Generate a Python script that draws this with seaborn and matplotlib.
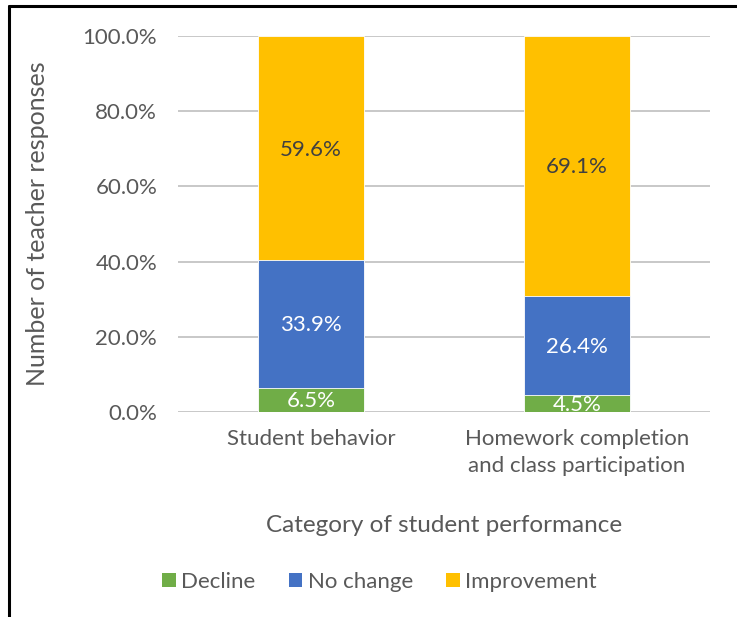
import pandas as pd
import numpy as np
import seaborn as sns
import matplotlib.pyplot as plt
from matplotlib.lines import Line2D
from matplotlib.patches import Patch

categories = ['Student behavior', 'Homework completion\nand class participation']
decline = [6.5, 4.5]
no_change = [33.9, 26.4]
improvement = [59.6, 69.1]
series = ['Decline', 'No change', 'Improvement']
colors = ['#70AD47', '#4472C4', '#FFC000']
label_colors = ['white', 'white', '#404040']

df = pd.DataFrame({'Category': categories, 'Decline': decline,
                   'No change': no_change, 'Improvement': improvement})
# cumulative tops for stacking
df['top_decline'] = df['Decline']
df['top_nochange'] = df['top_decline'] + df['No change']
df['top_improvement'] = df['top_nochange'] + df['Improvement']

sns.set_theme(style='white')
plt.rcParams['font.family'] = ['Lato', 'DejaVu Sans']
text_col = '#595959'

fig = plt.figure(figsize=(7.37, 6.17), dpi=100)
ax = fig.add_axes([0.2415, 0.3323, 0.722, 0.6094])

tops = ['top_improvement', 'top_nochange', 'top_decline']
for col, c in zip(tops, colors[::-1]):
    sns.barplot(data=df, x='Category', y=col, color=c, width=0.4,
                saturation=1, edgecolor='white', linewidth=0.6, ax=ax, zorder=3)

# segment labels
for i in range(len(categories)):
    bottom = 0
    for s, lc in zip(series, label_colors):
        v = df.loc[i, s]
        ax.text(i, bottom + v / 2 - 0.4, f'{v:.1f}%', ha='center', va='center',
                color=lc, fontsize=16, zorder=4)
        bottom += v

ax.set_ylim(0, 100)
ax.set_yticks(np.arange(0, 101, 20))
ax.set_yticklabels([f'{t:.1f}%' for t in np.arange(0, 101, 20)])
ax.yaxis.grid(True, color='#BFBFBF', linewidth=1.2, zorder=0)
ax.set_axisbelow(True)
for sp in ax.spines.values():
    sp.set_visible(False)
ax.tick_params(axis='both', length=0, labelsize=16, colors=text_col)
ax.tick_params(axis='y', pad=15)
ax.tick_params(axis='x', pad=12)
for t in ax.get_xticklabels():
    t.set_linespacing(1.45)
ax.set_ylabel('Number of teacher responses', fontsize=18, color=text_col, labelpad=24)
ax.set_xlabel('Category of student performance', fontsize=17.5, color=text_col, labelpad=28)

handles = [Patch(facecolor=c, edgecolor='none') for c in colors]
fig.legend(handles, series, loc='center', bbox_to_anchor=(0.515, 0.057), ncol=3,
           frameon=False, fontsize=16, handlelength=0.6, handleheight=0.6,
           handletextpad=0.25, columnspacing=1.5, labelcolor=text_col)

# chart frame (left and top edges visible)
fig.add_artist(Line2D([0.0125, 0.0125], [0, 0.99], color='black', linewidth=2.2,
                      transform=fig.transFigure))
fig.add_artist(Line2D([0.0125, 1.0], [0.99, 0.99], color='black', linewidth=2.2,
                      transform=fig.transFigure))

fig.savefig('out.png', dpi=100)
